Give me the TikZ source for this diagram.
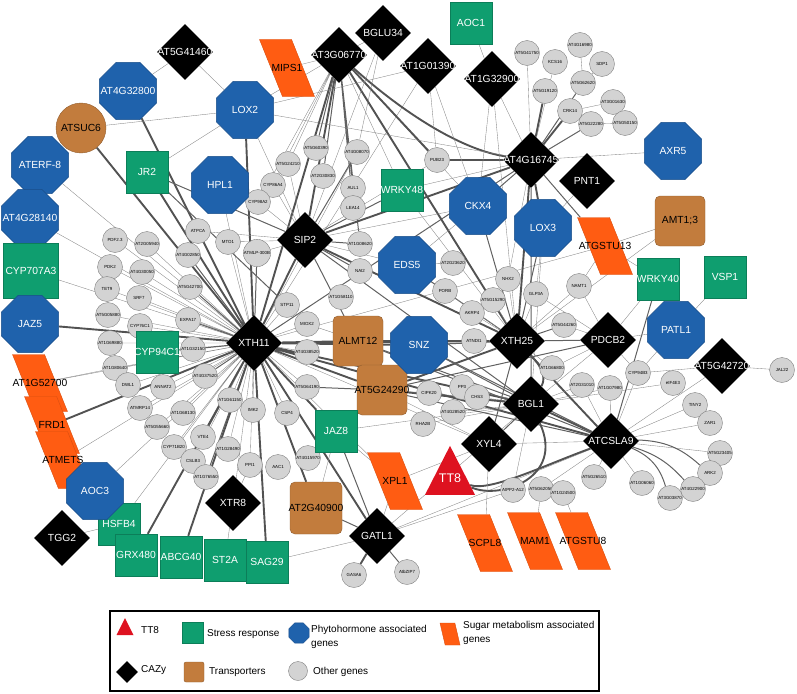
\documentclass[tikz,border=0pt]{standalone}
\usepackage{fontspec}
\setmainfont{Liberation Sans}
\usetikzlibrary{shapes.geometric}
\definecolor{hormblue}{HTML}{1F62AC}
\definecolor{stressgreen}{HTML}{0F9E6F}
\definecolor{transbrown}{HTML}{C27C3D}
\definecolor{sugarorange}{HTML}{FF5C12}
\definecolor{ttred}{HTML}{DE1220}
\definecolor{othergray}{HTML}{D3D3D3}
\pgfdeclarelayer{edges}
\pgfsetlayers{edges,main}
\newcommand{\lbl}[1]{\makebox[0pt]{#1}}
\tikzset{%
  % Specifications for style of nodes:
         base/.style = {inner sep=0.5pt, font=\fontsize{10.3}{12}\selectfont},
         cazy/.style = {base, diamond, fill=black, text=white,
                        minimum size=56},
      hormone/.style = {base, regular polygon, regular polygon sides=8,
                        fill=hormblue, draw=hormblue!80!black, text=white,
                        minimum size=62},
       stress/.style = {base, rectangle, fill=stressgreen,
                        draw=stressgreen!80!black, text=white,
                        minimum size=42},
    transport/.style = {base, rectangle, rounded corners=5pt,
                        fill=transbrown, draw=transbrown!75!black,
                        minimum size=50},
        sugar/.style = {base, trapezium, trapezium left angle=107,
                        trapezium right angle=73, trapezium stretches=true,
                        fill=sugarorange, draw=sugarorange!85!black,
                        minimum width=55, minimum height=57},
      ttstyle/.style = {base, isosceles triangle, isosceles triangle stretches,
                        shape border rotate=90, fill=ttred, text=white,
                        minimum width=50, minimum height=49,
                        font=\fontsize{12.5}{14}\selectfont},
        other/.style = {circle, fill=othergray, draw=black!50,
                        line width=0.4pt, minimum size=25, inner sep=0.5pt,
                        font=\fontsize{4.4}{5}\selectfont},
      keytext/.style = {anchor=west, align=left, inner sep=0pt,
                        font=\fontsize{10}{13.5}\selectfont},
  % Specifications for style of connectors:
         link/.style = {draw=black!48, line width=0.35pt},
      midlink/.style = {draw=black!62, line width=1pt},
    thicklink/.style = {draw=black!68, line width=1.9pt},
}

\begin{document}
\begin{tikzpicture}[x=1pt, y=-1pt]
    \useasboundingbox (0,0) rectangle (797,693);

    % other genes
    \node (at5g60390)  [other] at (316,148) {AT5G60390};
    \node (at4g08070)  [other] at (357,152) {AT4G08070};
    \node (at5g24210)  [other] at (288,164) {AT5G24210};
    \node (at2g30830)  [other] at (323,176) {AT2G30830};
    \node (cyp86a4)    [other] at (273,185) {CYP86A4};
    \node (aul1)       [other] at (353,188) {AUL1};
    \node (lea14)      [other] at (353,208) {LEA14};
    \node (cyp98a2)    [other] at (258,202) {CYP98A2};
    \node (pub23)      [other] at (437,160) {PUB23};
    \node (at5g41750)  [other] at (527,53)  {AT5G41750};
    \node (at4g16980)  [other] at (580,45)  {AT4G16980};
    \node (kcs16)      [other] at (555,62)  {KCS16};
    \node (sdp1)       [other] at (602,64)  {SDP1};
    \node (at5g19120)  [other] at (545,91)  {AT5G19120};
    \node (at5g62620)  [other] at (583,83)  {AT5G62620};
    \node (crk14)      [other] at (570,111) {CRK14};
    \node (at3g01630)  [other] at (613,102) {AT3G01630};
    \node (at5g22280)  [other] at (591,124) {AT5G22280};
    \node (at5g50150)  [other] at (625,123) {AT5G50150};
    \node (atpca)      [other] at (198,231) {ATPCA};
    \node (mto1)       [other] at (228,242) {MTO1};
    \node (atmlp)      [other] at (257,253) {ATMLP-300B};
    \node (at4g02850)  [other] at (188,255) {AT4G02850};
    \node (pdf23)      [other] at (115,240) {PDF2.3};
    \node (at2g05940)  [other] at (147,244) {AT2G05940};
    \node (pdk2)       [other] at (110,267) {PDK2};
    \node (at4g30050)  [other] at (142,272) {AT4G30050};
    \node (tet9)       [other] at (107,289) {TET9};
    \node (at5g42700)  [other] at (190,287) {AT5G42700};
    \node (srf7)       [other] at (139,298) {SRF7};
    \node (at5g05880)  [other] at (108,315) {AT5G05880};
    \node (cyp76c1)    [other] at (140,326) {CYP76C1};
    \node (expa17)     [other] at (188,320) {EXPA17};
    \node (at1g69880)  [other] at (110,343) {AT1G69880};
    \node (at1g32150)  [other] at (193,349) {AT1G32150};
    \node (at1g80640)  [other] at (115,368) {AT1G80640};
    \node (dwl1)       [other] at (128,385) {DWL1};
    \node (annat2)     [other] at (163,387) {ANNAT2};
    \node (at4g37520)  [other] at (205,376) {AT4G37520};
    \node (at1g61150)  [other] at (230,400) {AT1G61150};
    \node (imk2)       [other] at (253,410) {IMK2};
    \node (atmrp14)    [other] at (140,408) {ATMRP14};
    \node (at1g68130)  [other] at (183,413) {AT1G68130};
    \node (at5g55660)  [other] at (157,427) {AT5G55660};
    \node (vte4)       [other] at (203,437) {VTE4};
    \node (cyp71b20)   [other] at (174,447) {CYP71B20};
    \node (at1g28490)  [other] at (228,449) {AT1G28490};
    \node (cslb3)      [other] at (193,461) {CSLB3};
    \node (at1g76550)  [other] at (206,477) {AT1G76550};
    \node (ppi1)       [other] at (250,465) {PPI1};
    \node (aac1)       [other] at (278,467) {AAC1};
    \node (at4g15970)  [other] at (308,458) {AT4G15970};
    \node (csp4)       [other] at (287,413) {CSP4};
    \node (at5g64190)  [other] at (307,387) {AT5G64190};
    \node (at4g38520)  [other] at (307,352) {AT4G38520};
    \node (miox2)      [other] at (307,324) {MIOX2};
    \node (stp11)      [other] at (287,305) {STP11};
    \node (at1g58110)  [other] at (341,297) {AT1G58110};
    \node (nai2)       [other] at (360,271) {NAI2};
    \node (at1g08620)  [other] at (360,244) {AT1G08620};
    \node (at2g23620)  [other] at (453,263) {AT2G23620};
    \node (porb)       [other] at (445,291) {PORB};
    \node (nhx2)       [other] at (508,279) {NHX2};
    \node (at5g15290)  [other] at (493,300) {AT5G15290};
    \node (akrp4)      [other] at (472,313) {AKRP4};
    \node (atndi1)     [other] at (474,341) {ATNDI1};
    \node (glp3a)      [other] at (536,294) {GLP3A};
    \node (namt1)      [other] at (579,286) {NAMT1};
    \node (at5g44260)  [other] at (564,325) {AT5G44260};
    \node (cipk20)     [other] at (429,393) {CIPK20};
    \node (pp3)        [other] at (462,387) {PP3};
    \node (chs3)       [other] at (477,397) {CHS3};
    \node (at4g28520)  [other] at (453,412) {AT4G28520};
    \node (rha2b)      [other] at (423,424) {RHA2B};
    \node (at1g66800)  [other] at (552,368) {AT1G66800};
    \node (at2g31010)  [other] at (582,385) {AT2G31010};
    \node (at1g07980)  [other] at (610,388) {AT1G07980};
    \node (cyp94b3)    [other] at (638,373) {CYP94B3};
    \node (eif4e3)     [other] at (673,383) {eIF4E3};
    \node (tiny2)      [other] at (695,405) {TINY2};
    \node (zar1)       [other] at (710,423) {ZAR1};
    \node (jal22)      [other] at (782,370) {JAL22};
    \node (at5g23405)  [other] at (720,453) {AT5G23405};
    \node (ark2)       [other] at (710,473) {ARK2};
    \node (at4g22900)  [other] at (693,489) {AT4G22900};
    \node (at3g03870)  [other] at (670,498) {AT3G03870};
    \node (at1g06060)  [other] at (642,483) {AT1G06060};
    \node (at5g26510)  [other] at (594,477) {AT5G26510};
    \node (at5g62050)  [other] at (541,489) {AT5G62050};
    \node (at1g24500)  [other] at (563,493) {AT1G24500};
    \node (atpp2)      [other] at (513,490) {AtPP2-A12};
    \node (gasa6)      [other] at (354,575) {GASA6};
    \node (atbzip7)    [other] at (407,572) {AtbZIP7};

    % sugar metabolism
    \node (mips1)      [sugar] at (287,68)  {\lbl{MIPS1}};
    \node (atgstu13)   [sugar] at (605,246) {\lbl{ATGSTU13}};
    \node (at1g52700)  [sugar] at (40,383)  {\lbl{AT1G52700}};
    \node (frd1)       [sugar] at (52,425)  {\lbl{FRD1}};
    \node (atmets)     [sugar] at (63,460)  {\lbl{ATMETS}};
    \node (xpl1)       [sugar] at (395,481) {\lbl{XPL1}};
    \node (scpl8)      [sugar] at (485,543) {\lbl{SCPL8}};
    \node (mam1)       [sugar] at (535,541) {\lbl{MAM1}};
    \node (atgstu8)    [sugar] at (583,541) {\lbl{ATGSTU8}};

    % transporters
    \node (atsuc6)     [transport, circle] at (81,128) {\lbl{ATSUC6}};
    \node (amt13)      [transport] at (680,221) {\lbl{AMT1;3}};
    \node (almt12)     [transport] at (358,341) {\lbl{ALMT12}};
    \node (at5g24290)  [transport] at (382,390) {\lbl{AT5G24290}};
    \node (at2g40900)  [transport, minimum size=52] at (316,508) {\lbl{AT2G40900}};

    % stress response
    \node (aoc1)       [stress] at (471,23)  {\lbl{AOC1}};
    \node (jr2)        [stress] at (147,172) {\lbl{JR2}};
    \node (wrky48)     [stress] at (402,190) {\lbl{WRKY48}};
    \node (cyp94c1)    [stress] at (157,352) {\lbl{CYP94C1}};
    \node (wrky40)     [stress] at (658,279) {\lbl{WRKY40}};
    \node (vsp1)       [stress] at (725,277) {\lbl{VSP1}};
    \node (jaz8)       [stress] at (336,431) {\lbl{JAZ8}};
    \node (hsfb4)      [stress] at (119,524) {\lbl{HSFB4}};
    \node (grx480)     [stress] at (136,555) {\lbl{GRX480}};
    \node (abcg40)     [stress] at (181,557) {\lbl{ABCG40}};
    \node (st2a)       [stress] at (225,560) {\lbl{ST2A}};
    \node (sag29)      [stress] at (267,562) {\lbl{SAG29}};

    % phytohormone associated
    \node (at4g32800)  [hormone] at (128,91)  {\lbl{AT4G32800}};
    \node (lox2)       [hormone] at (245,110) {\lbl{LOX2}};
    \node (aterf8)     [hormone] at (40,165)  {\lbl{ATERF-8}};
    \node (hpl1)       [hormone] at (220,185) {\lbl{HPL1}};
    \node (at4g28140)  [hormone] at (30,218)  {\lbl{AT4G28140}};
    \node (cyp707a3)   [stress, minimum size=55] at (31,271) {\lbl{CYP707A3}};
    \node (jaz5)       [hormone] at (30,324)  {\lbl{JAZ5}};
    \node (ckx4)       [hormone] at (478,206) {\lbl{CKX4}};
    \node (lox3)       [hormone] at (543,228) {\lbl{LOX3}};
    \node (axr5)       [hormone] at (673,151) {\lbl{AXR5}};
    \node (eds5)       [hormone] at (407,265) {\lbl{EDS5}};
    \node (snz)        [hormone] at (419,345) {\lbl{SNZ}};
    \node (patl1)      [hormone] at (676,330) {\lbl{PATL1}};
    \node (aoc3)       [hormone] at (95,491)  {\lbl{AOC3}};

    % CAZy
    \node (at5g41460)  [cazy] at (185,52)  {\lbl{AT5G41460}};
    \node (at3g06770)  [cazy] at (339,55)  {\lbl{AT3G06770}};
    \node (bglu34)     [cazy] at (383,33)  {\lbl{BGLU34}};
    \node (at1g01390)  [cazy] at (428,66)  {\lbl{AT1G01390}};
    \node (at1g32900)  [cazy] at (492,79)  {\lbl{AT1G32900}};
    \node (at4g16745)  [cazy] at (531,160) {\lbl{AT4G16745}};
    \node (pnt1)       [cazy] at (587,181) {\lbl{PNT1}};
    \node (sip2)       [cazy] at (305,240) {\lbl{SIP2}};
    \node (xth11)      [cazy] at (254,343) {\lbl{XTH11}};
    \node (xth25)      [cazy] at (517,341) {\lbl{XTH25}};
    \node (pdcb2)      [cazy] at (608,340) {\lbl{PDCB2}};
    \node (at5g42720)  [cazy] at (722,366) {\lbl{AT5G42720}};
    \node (bgl1)       [cazy] at (531,404) {\lbl{BGL1}};
    \node (xyl4)       [cazy] at (489,444) {\lbl{XYL4}};
    \node (atcsla9)    [cazy] at (611,441) {\lbl{ATCSLA9}};
    \node (xtr8)       [cazy] at (233,503) {\lbl{XTR8}};
    \node (gatl1)      [cazy] at (377,536) {\lbl{GATL1}};
    \node (tgg2)       [cazy] at (62,538)  {\lbl{TGG2}};

    \node (tt8)        [ttstyle] at (450,478) {\lbl{TT8}};

    % connectors
    \begin{pgfonlayer}{edges}
    \draw[link] (xth11) -- (pdf23) (xth11) -- (pdk2) (xth11) -- (tet9)
        (xth11) -- (at5g05880) (xth11) -- (at1g69880) (xth11) -- (at1g80640)
        (xth11) -- (dwl1) (xth11) -- (annat2) (xth11) -- (srf7)
        (xth11) -- (cyp76c1) (xth11) -- (at2g05940) (xth11) -- (at4g30050)
        (xth11) -- (atmrp14) (xth11) -- (at5g55660) (xth11) -- (at1g68130)
        (xth11) -- (cyp71b20) (xth11) -- (at1g28490) (xth11) -- (cslb3)
        (xth11) -- (aterf8) (xth11) -- (at4g28140) (xth11) -- (cyp707a3)
        (xth11) -- (at1g52700) (xth11) -- (atmets) (xth11) -- (aoc3)
        (xth11) -- (hpl1) (xth11) -- (xtr8) (xth11) -- (ppi1)
        (xth11) -- (imk2) (xth11) -- (at1g61150) (xth11) -- (csp4)
        (xth11) -- (at5g64190) (xth11) -- (miox2) (xth11) -- (stp11)
        (xth11) -- (at4g38520) (xth11) -- (mto1) (xth11) -- (atpca)
        (xth11) -- (hsfb4) (xth11) -- (xpl1) (xth11) -- (xyl4)
        (xth11) -- (at1g01390) (xth11) -- (at4g08070) (xth11) -- (atgstu13);
    \draw[midlink] (xth11) -- (expa17) (xth11) -- (at1g32150)
        (xth11) -- (at4g37520) (xth11) -- (at5g42700) (xth11) -- (at4g02850)
        (xth11) -- (vte4) (xth11) -- (at1g76550) (xth11) -- (cyp94c1)
        (xth11) -- (atmlp) (xth11) -- (at4g16745);
    \draw[thicklink] (xth11) -- (jr2) (xth11) -- (atsuc6) (xth11) -- (at4g32800)
        (xth11) -- (lox2) (xth11) -- (jaz5) (xth11) -- (frd1)
        (xth11) -- (grx480) (xth11) -- (abcg40) (xth11) -- (sag29)
        (xth11) -- (jaz8) (xth11) -- (gatl1) (xth11) -- (at2g40900)
        (xth11) -- (almt12) (xth11) -- (at5g24290) (xth11) -- (sip2)
        (xth11) -- (xth25) (xth11) -- (bgl1) (xth11) -- (atcsla9)
        (xth11) -- (snz) (xth11) -- (at3g06770);

    \draw[link] (at3g06770) -- (mips1) (at3g06770) -- (bglu34)
        (at3g06770) -- (at5g24210) (at3g06770) -- (cyp86a4)
        (at3g06770) -- (cyp98a2) (at3g06770) -- (wrky48)
        (at3g06770) -- (ckx4) (at3g06770) -- (lox2);
    \draw[midlink] (at3g06770) -- (at5g60390) (at3g06770) -- (at2g30830)
        (at3g06770) -- (aul1) (at3g06770) -- (lea14) (at3g06770) -- (at1g08620);
    \draw[thicklink] (at3g06770) -- (sip2) (at3g06770) -- (xth25)
        (at3g06770) -- (pub23) (pub23) -- (at4g16745);
    \draw[thicklink] (at3g06770) .. controls (400,110) and (460,150) .. (at4g16745);

    \draw[link] (at5g41460) -- (at4g32800) (at5g41460) -- (lox2)
        (atsuc6) -- (lox2) (jr2) -- (lox2) (lox2) -- (at1g01390)
        (lox2) -- (at4g16745) (lox2) -- (sip2) (bglu34) -- (at4g08070)
        (bglu34) -- (sip2) (at1g01390) -- (pub23) (at1g01390) -- (ckx4)
        (aoc1) -- (at1g32900) (at1g32900) -- (at4g16745)
        (at1g32900) -- (ckx4) (at1g32900) -- (xth25) (pub23) -- (sip2);
    \draw[midlink] (jr2) -- (stp11) (jr2) -- (sip2) (at4g08070) -- (sip2);

    % fan above AT4G16745
    \draw[thicklink] (at4g16745) -- (crk14) (at4g16745) -- (at5g19120);
    \draw[midlink] (at4g16745) -- (at5g62620) (at4g16745) -- (at5g22280);
    \draw[link] (at4g16745) -- (kcs16) (at4g16745) -- (at5g41750)
        (crk14) -- (at3g01630) (at5g22280) -- (at5g50150)
        (at5g62620) -- (at4g16980) (at5g62620) -- (sdp1);
    \draw[link] (at4g16745) -- (axr5) (pnt1) -- (lox3)
        (at4g16745) -- (wrky48) (at4g16745) -- (nhx2);
    \draw[midlink] (at4g16745) -- (atgstu13) (at4g16745) -- (ckx4)
        (at4g16745) -- (bgl1);
    \draw[thicklink] (at4g16745) -- (lox3) (at4g16745) -- (sip2)
        (at4g16745) -- (xth25);

    \draw[link] (wrky48) -- (xth25) (ckx4) -- (sip2) (ckx4) -- (eds5)
        (sip2) -- (eds5) (sip2) -- (cyp98a2) (sip2) -- (cyp86a4)
        (sip2) -- (at5g24210) (sip2) -- (mto1) (sip2) -- (atmlp)
        (sip2) -- (atpca) (eds5) -- (porb) (eds5) -- (at2g23620);
    \draw[midlink] (wrky48) -- (sip2) (ckx4) -- (xth25) (sip2) -- (at1g08620)
        (sip2) -- (nai2) (sip2) -- (bgl1) (sip2) -- (at5g24290)
        (eds5) -- (xth25);
    \draw[thicklink] (sip2) -- (xth25);

    \draw[link] (xth25) -- (nhx2) (xth25) -- (at5g15290) (xth25) -- (akrp4)
        (xth25) -- (atndi1) (xth25) -- (porb) (xth25) -- (glp3a)
        (xth25) -- (namt1) (xth25) -- (at1g66800) (xth25) -- (amt13);
    \draw[midlink] (xth25) -- (at5g44260) (xth25) -- (snz) (xth25) -- (pdcb2)
        (xth25) -- (lox3) (xth25) -- (xyl4);
    \draw[thicklink] (xth25) -- (almt12) (xth25) -- (at5g24290)
        (xth25) -- (atcsla9);
    \draw[thicklink] (xth25) .. controls (545,370) and (545,380) .. (bgl1);

    \draw[link] (bgl1) -- (pp3) (bgl1) -- (chs3) (bgl1) -- (cipk20)
        (bgl1) -- (at4g28520) (bgl1) -- (rha2b) (bgl1) -- (pdcb2)
        (bgl1) -- (at2g31010) (bgl1) -- (at1g07980) (bgl1) -- (eif4e3)
        (bgl1) -- (gatl1) (bgl1) -- (jaz8) (bgl1) -- (atpp2) (lox3) -- (bgl1)
        (lox3) -- (glp3a);
    \draw[midlink] (bgl1) -- (snz) (bgl1) -- (almt12) (bgl1) -- (xyl4);
    \draw[thicklink] (bgl1) -- (at5g24290) (bgl1) -- (atcsla9);

    \draw[link] (atcsla9) -- (at5g23405) (atcsla9) -- (at1g06060)
        (atcsla9) -- (at5g26510) (atcsla9) -- (at5g62050) (atcsla9) -- (tiny2)
        (atcsla9) -- (zar1) (atcsla9) -- (cyp94b3) (atcsla9) -- (at2g31010)
        (atcsla9) -- (at1g07980) (atcsla9) -- (gatl1) (atcsla9) -- (xyl4)
        (atcsla9) -- (at5g42720);
    \draw[midlink] (atcsla9) to[bend left=20] (ark2);
    \draw[midlink] (atcsla9) to[bend left=15] (at4g22900);
    \draw[midlink] (atcsla9) to[bend left=25] (at3g03870);
    \draw[midlink] (atcsla9) -- (wrky40) (atcsla9) -- (at5g24290)
        (atcsla9) -- (snz) (atcsla9) -- (almt12);

    \draw[link] (pdcb2) -- (wrky40) (pdcb2) -- (patl1) (pdcb2) -- (at5g44260)
        (pdcb2) -- (cyp94b3) (pdcb2) -- (at1g66800) (pdcb2) -- (namt1)
        (pdcb2) -- (glp3a) (at5g42720) -- (jal22) (at5g42720) -- (cyp94b3)
        (patl1) -- (vsp1) (patl1) -- (cyp94b3) (amt13) -- (atgstu13)
        (atgstu13) -- (namt1) (wrky40) -- (atgstu13);
    \draw[midlink] (pdcb2) -- (at5g24290);

    \draw[thicklink] (tt8) .. controls (490,492) and (545,465) .. (atcsla9);
    \draw[thicklink] (tt8) .. controls (500,500) and (565,478) .. (bgl1);

    \draw[link] (xyl4) -- (xpl1) (xyl4) -- (scpl8) (xyl4) -- (at5g24290)
        (gatl1) -- (xpl1) (gatl1) -- (sag29) (gatl1) -- (atpp2)
        (xpl1) -- (jaz8) (mam1) -- (at5g62050) (atgstu8) -- (at1g24500)
        (hsfb4) -- (tgg2) (st2a) -- (xtr8) (xtr8) -- (ppi1)
        (at2g40900) -- (jaz8) (jaz8) -- (at4g15970) (almt12) -- (miox2)
        (at5g24290) -- (cipk20) (at1g52700) -- (at1g80640);
    \draw[midlink] (gatl1) -- (at2g40900) (gatl1) -- (atbzip7)
        (gatl1) -- (jaz8) (at5g24290) -- (at5g64190);
    \draw[thicklink] (gatl1) -- (gasa6);
    \end{pgfonlayer}

    % legend
    \node (legend) [draw, line width=1.5pt, minimum width=489,
        minimum height=80, inner sep=0pt] at (354.5,651) {};
    \node (keytt8)    [ttstyle, minimum width=17, minimum height=17] at (125,630) {};
    \node (keytt8t)   [keytext] at (141,630) {TT8};
    \node (keystress) [stress, minimum size=21] at (193,633) {};
    \node (keystresst)[keytext] at (207,634) {Stress response};
    \node (keyhorm)   [hormone, minimum size=22] at (299,633) {};
    \node (keyhormt)  [keytext] at (311,637) {Phytohormone associated\\genes};
    \node (keysugar)  [sugar, minimum width=20, minimum height=22,
        inner sep=1pt, trapezium left angle=118, trapezium right angle=62]
        at (450,634) {};
    \node (keysugart) [keytext] at (463,633) {Sugar metabolism associated\\genes};
    \node (keycazy)   [cazy, minimum size=22] at (127,672) {};
    \node (keycazyt)  [keytext] at (141,670) {CAZy};
    \node (keytrans)  [transport, minimum size=20, rounded corners=2pt] at (194,672) {};
    \node (keytranst) [keytext] at (209,672) {Transporters};
    \node (keyother)  [other, minimum size=19] at (298,671) {};
    \node (keyothert) [keytext] at (313,672) {Other genes};

\end{tikzpicture}
\end{document}
